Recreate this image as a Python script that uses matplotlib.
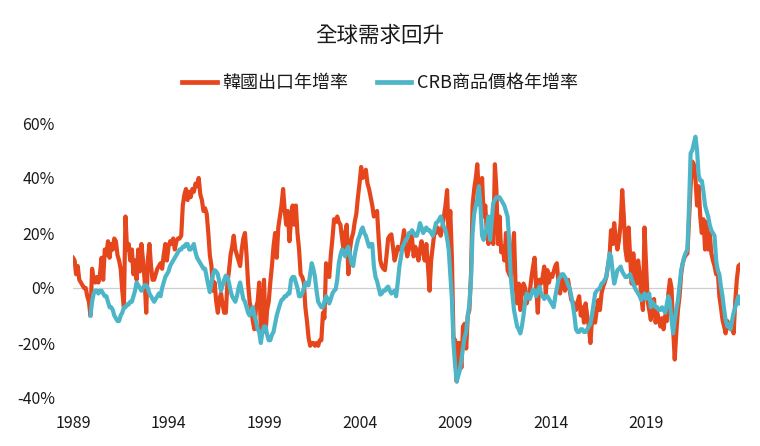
import numpy as np
import pandas as pd
import matplotlib
matplotlib.use("Agg")
import matplotlib.pyplot as plt
from matplotlib.lines import Line2D

plt.rcParams['font.family'] = ['Noto Sans CJK TC', 'DejaVu Sans']

title = "全球需求回升"
name_korea = "韓國出口年增率"
name_crb = "CRB商品價格年增率"

korea_start = "1989-01"
korea = [
    11, 10, 5, 8, 3, 2, 1, 0, 0, -3, -5, -10,              # 1989
    7, 3, 2, 4, 2, 5, 11, 3, 14, 12, 17, 11,               # 1990
    16, 14, 18, 17, 12, 10, 7, -1, -7, 26, 14, 16,         # 1991
    10, 14, 5, 10, 3, 14, 6, 16, 10, 3, -9, 10,            # 1992
    16, 8, 3, 3, 5, 7, 8, 9, 7, 12, 16, 10,                # 1993
    15, 17, 16, 18, 14, 17, 18, 18, 19, 30, 34, 36,        # 1994
    32, 35, 33, 36, 35, 38, 37, 40, 34, 32, 28, 29,        # 1995
    27, 20, 12, 8, -1, 2, -5, -9, -4, -2, -6, -9,          # 1996
    -9, 2, 6, 12, 15, 19, 14, 12, 10, 8, 14, 18,           # 1997
    20, 12, 2, -5, -8, -12, -15, -7, -5, 2, -15, -10,      # 1998
    3, -16, -8, -5, 2, 8, 15, 20, 11, 22, 26, 30,          # 1999
    36, 28, 23, 28, 17, 25, 30, 23, 30, 20, 14, 5,         # 2000
    4, 2, -7, -12, -18, -21, -20, -20, -21, -20, -21, -19, # 2001
    -19, -9, -11, 9, 6, 4, 12, 18, 25, 24, 26, 24,         # 2002
    23, 18, 14, 20, 23, 5, 14, 18, 20, 24, 27, 33,         # 2003
    38, 44, 40, 41, 43, 38, 36, 33, 30, 26, 27, 28,        # 2004
    18, 10, 8, 7, 6.5, 12, 18, 19, 19.5, 15, 10, 12,       # 2005
    15, 14, 14, 17, 21, 15, 11.5, 14, 20, 18, 11.5, 15,    # 2006
    13, 10, 14, 17, 13, 10, 16, 8, -1, 10, 15, 20,         # 2007
    20, 22, 21, 19, 22, 26, 30, 35.6, 17, 28, 11, -18,     # 2008
    -19, -34, -20, -20, -29, -14, -13, -22, -10, -8, 5, 30, # 2009
    36, 40, 45, 34, 30, 40, 26, 30, 20, 16, 22, 18,        # 2010
    16, 45, 36, 16, 26, 13, 15, 10, 20, 6.5, 5, 4,         # 2011
    12, 20, 1.6, -5.6, 1.6, -8, -1, 1.6, 0, -5.6, -3, -1,  # 2012
    4, 8, 11, 0, -9, 3, 1.6, 4, 7.8, -2, 6.5, 2,           # 2013
    5, 4, 6, 8, 9, 1.6, -2, 4, 2, -1, 1, 3,                # 2014
    -1, -4.4, -5, -6, -8, -5, -3, -10, -7, -12.6, -5.6, -10, # 2015
    -14, -20, -12, -9, -12.6, -8, -4.4, -8, -2, 0.5, 2, 4, # 2016
    8, 11.5, 21, 16, 23.6, 17.5, 14, 17.5, 23.6, 35.6, 26, 14, # 2017
    10, 22, 11.5, 1.6, 12.6, 5, 1.6, 10, 5, -3, -8, 22,    # 2018
    8, -5, -8, -11.6, -5, -4, -12.6, -9, -11.6, -14, -11, -15, # 2019
    -10, -12, -2, 3, 0, -15, -26, -16, -8, -3, 5, 9,       # 2020
    11, 12, 12.6, 24.7, 37, 46, 45, 40, 30, 37, 26, 20,    # 2021
    25, 14, 24, 14, 20, 12.6, 10, 8, 5, 6.5, -3, -7,       # 2022
    -11.6, -14, -16.5, -12, -14, -15, -12, -16.5, -5, 3, 8, 8.5, # 2023
]

crb_start = "1989-12"
crb = [
    -10,                                                   # 1989-12
    -5, -2, -1, -1, -2, -1, -1, -2, -3, -3, -5, -7,        # 1990
    -7, -8, -10, -11, -12, -12, -10, -9, -7, -7, -6, -6,   # 1991
    -5, -5, -3, -1, 2, 1, 0, -1, 0, 1, 1, 0,               # 1992
    -2, -3, -4, -5, -4, -3, -2, -3, 0, 2, 4, 5,            # 1993
    6, 8, 9, 10, 11, 12, 13, 14, 14, 15, 15, 16,           # 1994
    16, 14, 14, 15, 16, 13, 11, 10, 9, 8, 7, 7,            # 1995
    4, 1, -1.5, 2, 5, 6.5, 6, 5, 2, -1, 1, 3,              # 1996
    4.5, 4, 2, -1, -3, -4, -5, -3, 0, 2, -1, -4,           # 1997
    -5, -7, -9, -10, -8, -7, -10, -12, -15, -16, -20, -16, # 1998
    -14, -14, -17, -19, -19, -17, -16, -13, -10, -8, -6, -4.4, # 1999
    -4, -3, -3, -2, -2, 3, 4, 4, 2, 0, -3, -3,             # 2000
    -2, 0, 2, 1, 1, 5, 9, 7, 4, -1, -5, -6,                # 2001
    -7, -7, -5, -3, -4, -5.6, -4, -2, -1, -0.5, 3, 9,      # 2002
    12, 14, 13, 11.5, 14, 15, 12, 9, 8, 12, 15, 17.5,      # 2003
    19, 21, 22, 20, 19, 17, 15, 16, 16, 8, 4, 2.5,         # 2004
    0, -2.4, -2, -1, -1, 0, 0.5, -1, -2, -1.5, -1, -3,     # 2005
    2, 7.8, 11, 15, 16, 17.5, 18, 20, 20, 21, 20, 19,      # 2006
    19, 21, 23.6, 22, 20, 21, 22, 21, 21, 20, 19, 21,      # 2007
    23.6, 24, 25, 26, 24, 22, 21, 18, 14, 5, -4, -20,      # 2008
    -28, -34, -32, -30, -26, -22, -18, -16, -10, -6, 3, 20, # 2009
    27, 30, 32, 37, 30, 19, 17.5, 20, 22, 26, 17.5, 24,    # 2010
    31, 32, 33, 33, 33, 32, 31, 30, 28, 26, 17.5, 4,       # 2011
    -2, -8, -11, -14, -15, -16.5, -14, -10, -5, -2, -3, -4, # 2012
    -2, -0.5, -1, -3, -1, 0.5, -2, -3, -4, -3, -3, -4,     # 2013
    -5, -6, -7, -3, 0, 3, 4, 5, 5, 4, 3, 1,                # 2014
    0, -3, -6, -10, -15, -16, -16, -15, -15, -16, -16, -15, # 2015
    -14, -13, -10, -6, -2, -1, -0.5, 0, 1.6, 2, 3, 4,      # 2016
    8, 12.6, 11.5, 6, 1.6, 4, 6.5, 7, 7.8, 6, 5, 4,        # 2017
    4, 4.5, 5, 3, 1.6, 0, -1, -2, -3, -4.4, -3, -2,        # 2018
    -4, -3, -2, -7, -5, -6, -7, -7, -8, -8, -7, -8,        # 2019
    -9, -6, -3, -5, -11.6, -16.5, -11.6, -8, -4.4, 1, 6.5, 9, # 2020
    11.5, 13, 14, 30, 49, 50, 52.6, 55, 50, 41, 39, 39,    # 2021
    35, 30, 28, 26, 23, 21, 20, 19, 10, 6.5, 5, 0.5,       # 2022
    -3, -8, -11.6, -14, -13, -15, -12, -9, -7, -5, -3, -5.6, # 2023
]

year_ticks = [1989, 1994, 1999, 2004, 2009, 2014, 2019]
y_ticks = [-40, -20, 0, 20, 40, 60]

color_korea = "#E6461C"
color_crb = "#4DB5C8"
text_color = "#1a1a1a"

korea_dates = pd.date_range(korea_start, periods=len(korea), freq="MS")
crb_dates = pd.date_range(crb_start, periods=len(crb), freq="MS")

fig = plt.figure(figsize=(7.6, 4.46), dpi=100)
ax = fig.add_axes([73/760, 1 - 398/446, (740 - 73)/760, (398 - 123)/446])

ax.axhline(0, color="#cfcfcf", lw=0.9, zorder=1)
ax.plot(korea_dates, korea, color=color_korea, lw=3.0, solid_joinstyle="round", zorder=2)
ax.plot(crb_dates, crb, color=color_crb, lw=3.0, solid_joinstyle="round", zorder=3)

ax.set_ylim(-40, 60)
ax.set_xlim(korea_dates[0], korea_dates[-1])
ax.set_yticks(y_ticks)
ax.set_yticklabels([f"{v}%" for v in y_ticks])
ax.set_xticks([pd.Timestamp(f"{y}-01-01") for y in year_ticks])
ax.set_xticklabels([str(y) for y in year_ticks])
ax.tick_params(axis="both", length=0, labelsize=11.5, colors=text_color)
ax.tick_params(axis="y", pad=13)
ax.tick_params(axis="x", pad=12)
for s in ax.spines.values():
    s.set_visible(False)

fig.text(0.5, 1 - 36/446, title, ha="center", va="center", fontsize=15.5,
         color=text_color, fontweight="medium")

handles = [Line2D([], [], color=color_korea, lw=3.4),
           Line2D([], [], color=color_crb, lw=3.4)]
leg = fig.legend(handles, [name_korea, name_crb], loc="center",
                 bbox_to_anchor=(0.5, 1 - 83/446), ncol=2, frameon=False,
                 fontsize=13, handlelength=1.9, handletextpad=0.3, columnspacing=1.6,
                 labelcolor=text_color, prop={"size": 13, "weight": "medium"})

fig.savefig("out.png", dpi=100, facecolor="white")
